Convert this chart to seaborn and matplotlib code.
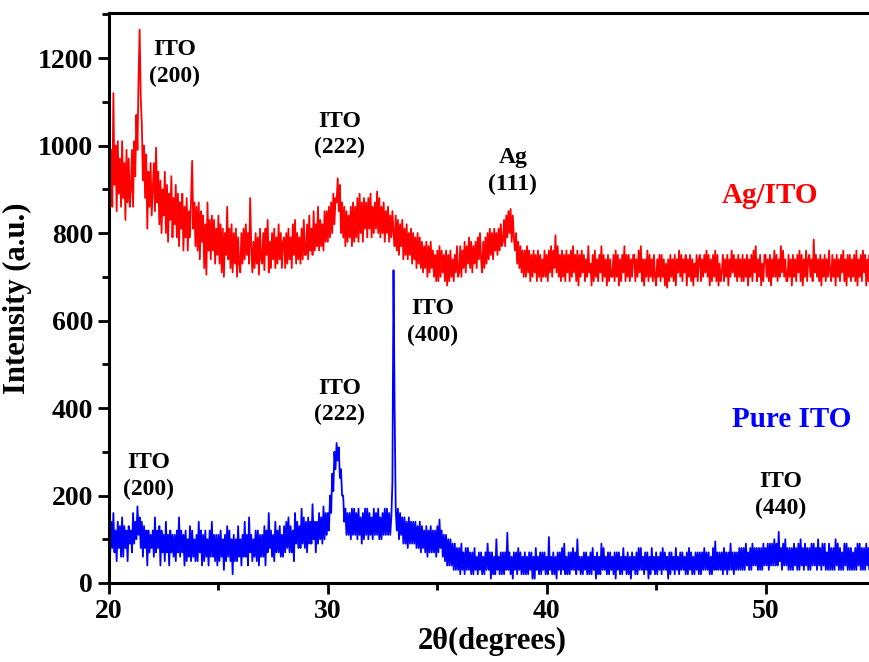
import numpy as np
import pandas as pd
import matplotlib
matplotlib.use("Agg")
import matplotlib.pyplot as plt
import seaborn as sns
from matplotlib.ticker import MultipleLocator

# ---- data (2theta scan, 0.05 degree step from 20 to 55) ----
two_theta = np.linspace(20.0, 55.0, 701)

ag_ito = [
    1050, 880, 990, 860, 1120, 910, 1000, 850, 1010, 890, 970, 860, 1010, 880, 960, 830, 990, 870, 970, 860,
    900, 990, 860, 1010, 930, 1070, 990, 1150, 1265, 1110, 1050, 920, 1000, 880, 980, 810, 940, 860, 960, 840,
    900, 960, 850, 995, 870, 940, 820, 920, 800, 900, 840, 940, 800, 910, 780, 890, 830, 930, 790, 880,
    820, 910, 790, 890, 770, 870, 810, 890, 760, 860, 790, 880, 760, 850, 790, 880, 965, 810, 870, 770,
    860, 760, 870, 740, 850, 780, 840, 720, 820, 705, 870, 760, 830, 740, 840, 760, 830, 730, 810, 750,
    840, 730, 820, 710, 810, 700, 800, 750, 860, 740, 810, 720, 820, 710, 800, 730, 810, 700, 790, 730,
    710, 800, 730, 810, 740, 820, 750, 800, 730, 880, 770, 710, 780, 720, 800, 730, 790, 705, 810, 740,
    730, 800, 715, 810, 750, 830, 710, 780, 720, 800, 740, 810, 720, 790, 730, 820, 740, 800, 720, 780,
    790, 720, 800, 730, 810, 740, 790, 720, 820, 750, 830, 730, 800, 740, 790, 730, 810, 740, 830, 750,
    750, 820, 740, 840, 760, 810, 750, 850, 760, 820, 770, 860, 760, 830, 770, 820, 760, 850, 780, 850,
    780, 860, 790, 870, 800, 890, 820, 880, 870, 925, 850, 910, 800, 870, 790, 860, 770, 850, 780, 840,
    790, 860, 770, 870, 780, 860, 790, 880, 780, 890, 800, 870, 780, 880, 810, 870, 790, 880, 810, 890,
    790, 860, 800, 870, 810, 895, 800, 880, 790, 860, 800, 870, 780, 850, 800, 860, 780, 840, 790, 850,
    800, 770, 840, 760, 830, 750, 820, 770, 830, 740, 810, 750, 820, 740, 800, 750, 810, 730, 800, 740,
    790, 720, 800, 730, 790, 720, 780, 710, 770, 720, 780, 700, 770, 710, 780, 720, 760, 700, 750, 690,
    760, 690, 770, 700, 760, 710, 750, 690, 760, 680, 750, 690, 760, 700, 740, 690, 750, 710, 770, 700,
    710, 770, 700, 760, 720, 780, 710, 770, 730, 790, 720, 780, 710, 770, 730, 780, 720, 790, 740, 800,
    740, 710, 780, 720, 790, 730, 800, 740, 810, 750, 800, 740, 810, 760, 800, 750, 810, 760, 820, 770,
    780, 830, 770, 840, 790, 850, 800, 855, 780, 840, 790, 760, 800, 730, 780, 720, 770, 710, 760, 700,
    760, 700, 770, 710, 760, 690, 750, 700, 760, 710, 750, 690, 760, 700, 750, 690, 740, 700, 760, 700,
    750, 690, 760, 710, 770, 700, 760, 720, 795, 710, 770, 700, 750, 690, 760, 700, 750, 690, 760, 710,
    750, 690, 760, 700, 770, 710, 750, 690, 760, 680, 750, 700, 760, 710, 750, 690, 740, 700, 770, 710,
    730, 680, 750, 690, 760, 700, 740, 690, 750, 710, 770, 690, 750, 700, 740, 680, 750, 690, 740, 700,
    700, 750, 690, 760, 700, 750, 680, 740, 690, 750, 710, 770, 690, 750, 700, 750, 690, 740, 700, 750,
    750, 690, 740, 700, 760, 710, 770, 690, 740, 680, 740, 700, 760, 690, 750, 700, 740, 690, 750, 700,
    680, 740, 700, 750, 690, 750, 700, 740, 680, 730, 675, 740, 690, 750, 700, 740, 690, 750, 680, 740,
    710, 760, 700, 750, 690, 740, 710, 750, 680, 740, 700, 750, 690, 740, 680, 730, 700, 750, 690, 740,
    750, 690, 740, 700, 750, 710, 760, 700, 750, 680, 740, 690, 750, 700, 760, 690, 750, 680, 730, 690,
    710, 750, 690, 740, 700, 750, 680, 740, 700, 760, 710, 750, 700, 740, 690, 750, 700, 740, 690, 750,
    690, 740, 700, 750, 680, 740, 700, 750, 690, 760, 710, 770, 690, 740, 700, 750, 680, 730, 690, 750,
    750, 700, 740, 690, 750, 680, 740, 700, 760, 700, 750, 690, 740, 700, 770, 710, 760, 700, 740, 690,
    690, 750, 700, 740, 680, 750, 700, 740, 690, 750, 710, 760, 690, 750, 680, 740, 700, 760, 690, 740,
    750, 700, 740, 690, 785, 710, 750, 700, 740, 690, 750, 680, 740, 700, 750, 690, 740, 700, 760, 710,
    690, 750, 700, 740, 680, 750, 700, 740, 690, 750, 710, 760, 690, 740, 680, 750, 700, 750, 690, 740,
    700, 750, 690, 760, 680, 740, 700, 750, 690, 760, 710, 750, 680, 740, 690, 750, 700, 760, 690, 740,
    720,
]

pure_ito = [
    110, 60, 140, 80, 160, 70, 120, 50, 140, 80, 130, 60, 150, 60, 130, 80, 120, 50, 130, 90,
    120, 70, 160, 90, 140, 100, 175, 110, 150, 80, 140, 60, 130, 80, 120, 40, 120, 70, 110, 80,
    120, 60, 150, 70, 120, 80, 130, 40, 120, 70, 110, 50, 140, 70, 110, 40, 120, 70, 110, 60,
    110, 50, 120, 70, 150, 60, 120, 70, 110, 40, 120, 50, 100, 60, 130, 50, 120, 60, 100, 50,
    110, 50, 140, 70, 120, 40, 110, 50, 120, 60, 100, 40, 120, 60, 140, 60, 110, 50, 110, 40,
    110, 50, 120, 60, 100, 30, 110, 50, 130, 60, 120, 50, 100, 20, 110, 50, 100, 50, 130, 60,
    100, 40, 110, 60, 140, 60, 110, 40, 150, 70, 110, 50, 100, 60, 120, 50, 120, 40, 110, 60,
    110, 60, 130, 40, 120, 70, 160, 80, 120, 60, 110, 50, 140, 70, 120, 70, 130, 60, 110, 60,
    130, 70, 140, 80, 150, 70, 130, 70, 120, 50, 160, 90, 140, 80, 130, 80, 170, 90, 150, 80,
    140, 70, 150, 90, 140, 90, 180, 100, 140, 70, 140, 90, 160, 100, 150, 90, 175, 100, 160, 110,
    160, 120, 200, 160, 250, 210, 300, 260, 320, 280, 310, 240, 260, 200, 200, 140, 170, 110, 160, 110,
    160, 100, 170, 110, 170, 110, 160, 100, 170, 110, 150, 90, 160, 100, 170, 110, 170, 100, 160, 110,
    150, 100, 170, 110, 160, 110, 170, 100, 150, 100, 160, 110, 170, 110, 170, 110, 160, 110, 150, 230,
    715, 400, 170, 120, 170, 100, 160, 110, 150, 90, 150, 90, 140, 80, 150, 90, 140, 90, 140, 90,
    140, 80, 130, 80, 140, 70, 130, 80, 120, 70, 130, 60, 120, 70, 130, 70, 120, 70, 120, 60,
    130, 70, 145, 80, 120, 60, 110, 50, 110, 40, 100, 40, 100, 40, 90, 30, 90, 30, 80, 30,
    80, 20, 90, 30, 70, 20, 80, 30, 80, 30, 70, 20, 70, 20, 80, 30, 60, 20, 70, 30,
    70, 20, 60, 20, 70, 30, 90, 30, 70, 10, 70, 20, 60, 20, 100, 30, 60, 20, 70, 20,
    70, 20, 70, 30, 115, 30, 70, 20, 60, 10, 70, 30, 70, 20, 80, 30, 70, 20, 60, 20,
    70, 20, 60, 20, 70, 30, 70, 10, 60, 10, 80, 30, 60, 20, 70, 20, 70, 30, 70, 20,
    60, 20, 105, 30, 60, 20, 70, 20, 60, 10, 70, 30, 70, 20, 80, 30, 90, 20, 60, 20,
    70, 20, 70, 30, 80, 30, 70, 20, 100, 30, 60, 20, 60, 20, 70, 30, 70, 20, 60, 20,
    70, 20, 80, 30, 60, 10, 70, 20, 60, 20, 90, 30, 80, 30, 60, 20, 70, 20, 70, 30,
    60, 20, 70, 10, 70, 30, 70, 20, 60, 20, 80, 30, 60, 20, 70, 20, 60, 10, 70, 30,
    60, 20, 70, 20, 80, 30, 80, 30, 60, 20, 70, 30, 70, 10, 60, 20, 80, 30, 60, 20,
    70, 20, 60, 30, 70, 20, 80, 30, 70, 30, 60, 10, 70, 20, 70, 30, 60, 20, 80, 30,
    60, 20, 70, 30, 70, 30, 60, 20, 70, 20, 80, 30, 70, 20, 60, 20, 70, 30, 70, 20,
    70, 20, 70, 30, 80, 30, 70, 30, 70, 20, 60, 20, 80, 30, 95, 30, 70, 30, 70, 30,
    70, 20, 80, 30, 70, 20, 70, 30, 90, 30, 70, 20, 70, 30, 70, 30, 80, 30, 80, 30,
    80, 30, 90, 40, 70, 30, 80, 30, 90, 40, 80, 40, 80, 30, 80, 30, 80, 30, 90, 40,
    80, 40, 90, 30, 90, 40, 90, 40, 100, 40, 90, 40, 117, 50, 80, 30, 90, 40, 100, 40,
    80, 30, 80, 30, 80, 30, 90, 40, 80, 30, 90, 30, 100, 40, 80, 30, 90, 40, 80, 30,
    80, 30, 90, 40, 90, 40, 80, 30, 100, 40, 80, 30, 90, 40, 90, 30, 70, 30, 90, 30,
    80, 30, 80, 30, 100, 40, 90, 30, 80, 30, 70, 30, 90, 40, 90, 30, 80, 30, 80, 30,
    70, 30, 80, 30, 90, 40, 90, 30, 80, 30, 80, 30, 90, 40, 80, 30, 90, 40, 80, 30,
    50,
]

series_names = ["Ag/ITO", "Pure ITO"]
series_colors = ["#ff0000", "#0000ff"]

peak_labels = ["ITO\n(200)", "ITO\n(222)", "Ag\n(111)",
               "ITO\n(200)", "ITO\n(222)", "ITO\n(400)", "ITO\n(440)"]
peak_x = [23.0, 30.55, 38.45, 21.8, 30.55, 34.8, 50.7]
peak_y = [1188, 1025, 941, 245, 415, 597, 201]

x_ticks = [20, 30, 40, 50]
y_ticks = [0, 200, 400, 600, 800, 1000, 1200]

# ---- build table ----
df = pd.DataFrame({
    "two_theta": np.concatenate([two_theta, two_theta]),
    "intensity": np.concatenate([ag_ito, pure_ito]),
    "sample": [series_names[0]] * len(two_theta) + [series_names[1]] * len(two_theta),
})

sns.set_theme(style="ticks")
plt.rcParams["font.family"] = ["Liberation Serif", "DejaVu Serif"]
plt.rcParams["font.weight"] = "bold"
plt.rcParams["text.color"] = "black"
plt.rcParams["axes.labelcolor"] = "black"
plt.rcParams["xtick.color"] = "black"
plt.rcParams["ytick.color"] = "black"

fig = plt.figure(figsize=(8.69, 6.62), dpi=100)
ax = fig.add_axes([109 / 869, 79 / 662, 766 / 869, 570 / 662])

sns.lineplot(data=df, x="two_theta", y="intensity", hue="sample",
             palette=dict(zip(series_names, series_colors)),
             linewidth=1.3, legend=False, ax=ax, sort=True, estimator=None)

ax.set_xlim(20, 55)
ax.set_ylim(0, 1303)
ax.set_xticks(x_ticks)
ax.set_yticks(y_ticks)
ax.xaxis.set_minor_locator(MultipleLocator(5))
ax.yaxis.set_minor_locator(MultipleLocator(100))
ax.tick_params(axis="both", which="major", direction="out", length=8, width=2,
               labelsize=20, colors="black")
ax.tick_params(axis="both", which="minor", direction="out", length=5, width=2)
for lab in ax.get_xticklabels() + ax.get_yticklabels():
    lab.set_fontweight("bold")
for side in ["left", "bottom", "top", "right"]:
    ax.spines[side].set_visible(True)
    ax.spines[side].set_linewidth(2.2)
    ax.spines[side].set_color("black")

ax.set_xlabel("2θ(degrees)", fontsize=22, fontweight="bold", color="black", labelpad=2)
ax.set_ylabel("Intensity (a.u.)", fontsize=22, fontweight="bold", color="black", labelpad=4)

for txt, px, py in zip(peak_labels, peak_x, peak_y):
    ax.text(px, py, txt, ha="center", va="center", fontsize=17,
            fontweight="bold", color="black", linespacing=1.35)

ax.text(50.2, 885, series_names[0], ha="center", va="center", fontsize=21,
        fontweight="bold", color=series_colors[0])
ax.text(51.2, 373, series_names[1], ha="center", va="center", fontsize=21,
        fontweight="bold", color=series_colors[1])

fig.savefig("out.png", dpi=100)
